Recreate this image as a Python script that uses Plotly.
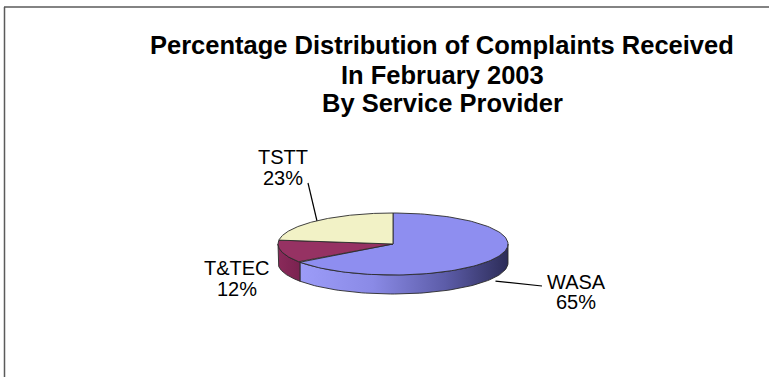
import numpy as np
import plotly.graph_objects as go

# ---- data ----
providers = ["WASA", "T&TEC", "TSTT"]
percentages = [65, 12, 23]
title_lines = ["Percentage Distribution of Complaints Received",
               "In February 2003",
               "By Service Provider"]

# ---- styling / layout constants (pixel space) ----
W, H = 769, 377
CX, CY, A, B, DEPTH = 393, 244, 115, 31, 19
top_colors = {"WASA": "#8e8ef0", "T&TEC": "#963263", "TSTT": "#f2f2c6"}
side_fill = {
    "WASA": dict(type="horizontal",
                 colorscale=[[0, "#9c9cf8"], [0.35, "#8a8ae6"], [0.7, "#5c5ca8"], [1, "#2c2c58"]]),
    "T&TEC": dict(type="horizontal", colorscale=[[0, "#8a2a5a"], [1, "#7a2250"]]),
}
label_pos = {"WASA": (576, 281.5, 301.5), "T&TEC": (237, 267.5, 288.5), "TSTT": (283, 156.5, 177.5)}
leader_end = {"WASA": (542, 286), "TSTT": (308, 183)}
OUTLINE = "#2a2a2a"
FONT = "Liberation Sans, Arial, sans-serif"


def pt(theta, dy=0.0):
    t = np.radians(theta)
    return CX + A * np.sin(t), CY - B * np.cos(t) + dy


# slice angles (clockwise from 12 o'clock)
bounds = np.concatenate([[0], np.cumsum(percentages)]) / sum(percentages) * 360.0
slices = {p: (bounds[i], bounds[i + 1]) for i, p in enumerate(providers)}

fig = go.Figure()

# side walls (visible front half: 90..270 degrees)
for p in providers:
    t0, t1 = slices[p]
    s, e = max(t0, 90), min(t1, 270)
    if e <= s:
        continue
    th = np.linspace(s, e, 80)
    xt, yt = pt(th)
    xb, yb = pt(th[::-1], DEPTH)
    xs = np.concatenate([xt, xb, xt[:1]])
    ys = np.concatenate([yt, yb, yt[:1]])
    fig.add_trace(go.Scatter(x=xs, y=ys, mode="lines", fill="toself",
                             fillgradient=side_fill[p],
                             line=dict(color=OUTLINE, width=0.9),
                             hoverinfo="skip", showlegend=False))

# top faces
for p in providers:
    t0, t1 = slices[p]
    th = np.linspace(t0, t1, 120)
    xa, ya = pt(th)
    xs = np.concatenate([[CX], xa, [CX]])
    ys = np.concatenate([[CY], ya, [CY]])
    fig.add_trace(go.Scatter(x=xs, y=ys, mode="lines", fill="toself",
                             fillcolor=top_colors[p],
                             line=dict(color=OUTLINE, width=0.9),
                             hoverinfo="skip", showlegend=False))

# leader lines from slice middle to label
for p, (ex, ey) in leader_end.items():
    t0, t1 = slices[p]
    mid = (t0 + t1) / 2
    dy = DEPTH + 4 if 90 < mid < 270 else 0
    sx, sy = pt(mid, dy)
    fig.add_trace(go.Scatter(x=[sx, ex], y=[sy, ey], mode="lines",
                             line=dict(color="#000000", width=1.2),
                             hoverinfo="skip", showlegend=False))

annotations = []
title_y = [45, 74.5, 102.5]
for txt, y in zip(title_lines, title_y):
    annotations.append(dict(x=442, y=y, xref="x", yref="y", text=txt, showarrow=False,
                            xanchor="center", yanchor="middle",
                            font=dict(family=FONT, size=25.5, color="#000000", weight="bold")))
for p, v in zip(providers, percentages):
    lx, y1, y2 = label_pos[p]
    for txt, y in ((p, y1), (f"{v}%", y2)):
        annotations.append(dict(x=lx, y=y, xref="x", yref="y", text=txt, showarrow=False,
                                xanchor="center", yanchor="middle",
                                font=dict(family=FONT, size=20, color="#000000")))

shapes = [
    dict(type="line", xref="x", yref="y", x0=4, y0=7, x1=W, y1=7,
         line=dict(color="#5a5a5a", width=1.5)),
    dict(type="line", xref="x", yref="y", x0=4.5, y0=7, x1=4.5, y1=H,
         line=dict(color="#5a5a5a", width=1.5)),
]

fig.update_layout(
    width=W, height=H,
    margin=dict(l=0, r=0, t=0, b=0),
    paper_bgcolor="white", plot_bgcolor="white",
    xaxis=dict(range=[0, W], visible=False, fixedrange=True),
    yaxis=dict(range=[H, 0], visible=False, fixedrange=True),
    annotations=annotations, shapes=shapes,
    showlegend=False,
)

fig.write_html("out.html")
